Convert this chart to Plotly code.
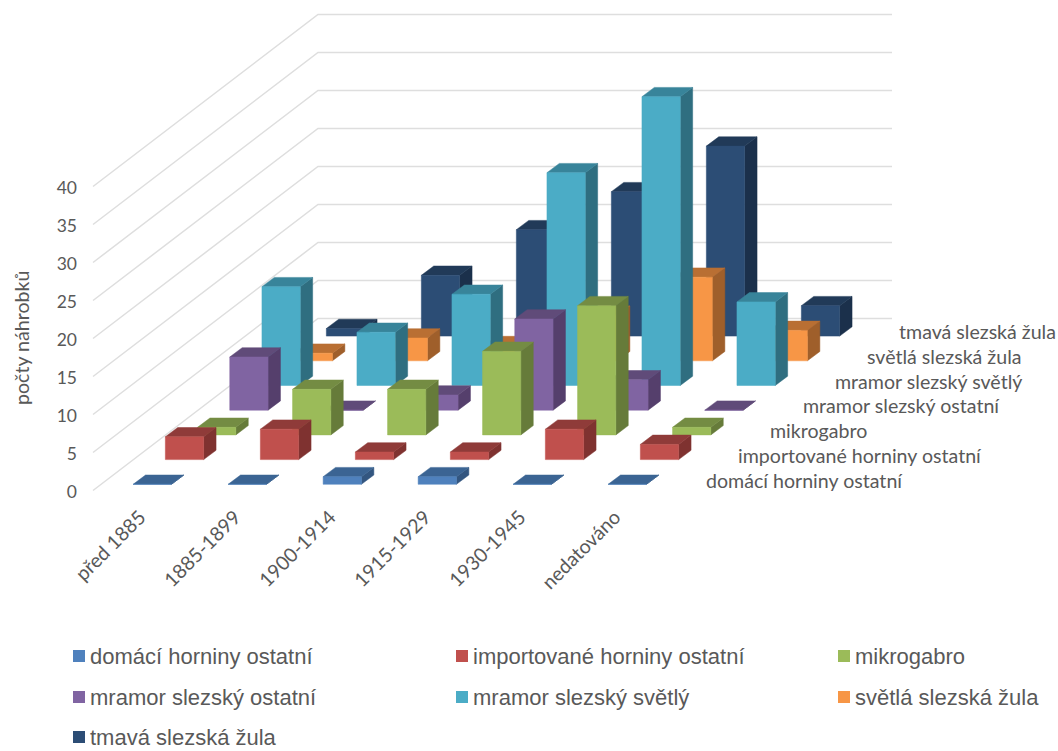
import plotly.graph_objects as go

categories = ["před 1885", "1885-1899", "1900-1914", "1915-1929", "1930-1945", "nedatováno"]
series_names = ["domácí horniny ostatní", "importované horniny ostatní", "mikrogabro",
                "mramor slezský ostatní", "mramor slezský světlý", "světlá slezská žula",
                "tmavá slezská žula"]
domaci = [0, 0, 1, 1, 0, 0]
importovane = [3, 4, 1, 1, 4, 2]
mikrogabro = [1, 6, 6, 11, 17, 1]
mramor_ostatni = [7, 0, 2, 12, 4, 0]
mramor_svetly = [13, 7, 12, 28, 38, 11]
svetla_zula = [1, 3, 2, 6, 11, 4]
tmava_zula = [1, 8, 14, 19, 25, 4]
all_values = [domaci, importovane, mikrogabro, mramor_ostatni, mramor_svetly, svetla_zula, tmava_zula]
front_colors = ["#4F81BD", "#C0504D", "#9BBB59", "#8064A2", "#4BACC6", "#F79646", "#2C4D75"]
top_colors = ["#3B6493", "#8F3B39", "#748C43", "#604B79", "#38849A", "#B96F33", "#213A58"]
side_colors = ["#335680", "#7F3230", "#667B3A", "#553F6C", "#2F6E80", "#9F5F2B", "#1B304B"]
grid_values = [0, 5, 10, 15, 20, 25, 30, 35, 40]

W, H = 1058, 751
PLOT_LEFT, PLOT_BOTTOM = 78, 501
PX_CAT, PX_VAL = 95.0, 7.6         # pixels per category, pixels per value unit
X0_PX, Y0_PX = 153.0, 490.5        # where (x=0, y=0) falls on the page

S_DX, S_DY = 32.2 / PX_CAT, 24.7 / PX_VAL     # shift per series (oblique depth)
BAR_W = 38.3 / PX_CAT
BAR_X0 = -0.7 / PX_CAT
BAR_DX, BAR_DY = 12.4 / PX_CAT, 9.3 / PX_VAL
BASE_Y = (490.5 - 484.3) / PX_VAL
WALL_X0 = (93 - X0_PX) / PX_CAT
WALL_X1 = (318 - X0_PX) / PX_CAT
WALL_X2 = (892 - X0_PX) / PX_CAT
WALL_DY = 172 / PX_VAL

fig = go.Figure()

gx, gy = [], []
for v in grid_values:
    gx += [WALL_X0, WALL_X1, WALL_X2, None]
    gy += [v, v + WALL_DY, v + WALL_DY, None]
fig.add_trace(go.Scatter(x=gx, y=gy, mode="lines", line=dict(color="#DEDEDE", width=1.5),
                         hoverinfo="skip", showlegend=False))


def poly(xs, ys, pts):
    for a, b in pts:
        xs.append(a)
        ys.append(b)
    xs.append(None)
    ys.append(None)


for s in reversed(range(len(series_names))):
    fx, fy, tx, ty, rx, ry = [], [], [], [], [], []
    for i, v in enumerate(all_values[s]):
        xl = i + BAR_X0 - BAR_W / 2 + s * S_DX
        xr = xl + BAR_W
        yb = BASE_Y + s * S_DY
        yt = yb + v
        poly(fx, fy, [(xl, yb), (xr, yb), (xr, yt), (xl, yt), (xl, yb)])
        poly(tx, ty, [(xl, yt), (xr, yt), (xr + BAR_DX, yt + BAR_DY), (xl + BAR_DX, yt + BAR_DY), (xl, yt)])
        poly(rx, ry, [(xr, yb), (xr + BAR_DX, yb + BAR_DY), (xr + BAR_DX, yt + BAR_DY), (xr, yt), (xr, yb)])
    for xs, ys, col in ((rx, ry, side_colors[s]), (tx, ty, top_colors[s]), (fx, fy, front_colors[s])):
        fig.add_trace(go.Scatter(x=xs, y=ys, mode="lines", fill="toself", fillcolor=col,
                                 line=dict(color=col, width=0.5), name=series_names[s],
                                 hoverinfo="name", showlegend=False))

TEXT_FONT = dict(family="Lato", size=19.6, color="#595959")
TICK_FONT = dict(family="Lato", size=17.5, color="#595959")
annotations = []
for s, name in enumerate(series_names):
    annotations.append(dict(x=(704 - X0_PX) / PX_CAT + s * S_DX,
                            y=(Y0_PX - 480) / PX_VAL + s * S_DY,
                            xref="x", yref="y", text=name, showarrow=False,
                            xanchor="left", yanchor="middle", font=TEXT_FONT))
annotations.append(dict(x=21 / W, y=1 - 338 / H, xref="paper", yref="paper", text="počty náhrobků",
                        textangle=-90, showarrow=False, xanchor="center", yanchor="middle",
                        font=TEXT_FONT))

shapes = []
leg_x = [73, 456, 838]
leg_y = [656, 697, 737]
for s, name in enumerate(series_names):
    lx = leg_x[s % 3]
    ly = leg_y[s // 3]
    shapes.append(dict(type="rect", xref="paper", yref="paper", x0=lx / W, x1=(lx + 12) / W,
                       y0=1 - (ly + 6) / H, y1=1 - (ly - 6) / H, fillcolor=front_colors[s], line_width=0))
    annotations.append(dict(x=(lx + 15) / W, y=1 - ly / H, xref="paper", yref="paper", text=name,
                            showarrow=False, xanchor="left", yanchor="middle",
                            font=dict(family="Liberation Sans", size=22, color="#595959")))

fig.update_layout(
    width=W, height=H, margin=dict(l=0, r=0, t=0, b=0), paper_bgcolor="white", plot_bgcolor="white",
    showlegend=False, annotations=annotations, shapes=shapes,
    xaxis=dict(domain=[PLOT_LEFT / W, 1], anchor="y", automargin=False,
               range=[(PLOT_LEFT - X0_PX) / PX_CAT, (W - X0_PX) / PX_CAT],
               tickmode="array", tickvals=list(range(len(categories))), ticktext=categories,
               tickangle=-45, tickfont=TEXT_FONT, ticklabelshift=-13,
               showgrid=False, zeroline=False, showline=False, ticks=""),
    yaxis=dict(domain=[1 - PLOT_BOTTOM / H, 1], anchor="x", automargin=False,
               range=[(Y0_PX - PLOT_BOTTOM) / PX_VAL, Y0_PX / PX_VAL],
               tickmode="array", tickvals=grid_values, tickfont=TICK_FONT, ticklabelshift=1,
               showgrid=False, zeroline=False, showline=False, ticks=""),
)
fig.write_html("out.html", post_script="document.body.style.margin='0';",
               config=dict(displayModeBar=False))
